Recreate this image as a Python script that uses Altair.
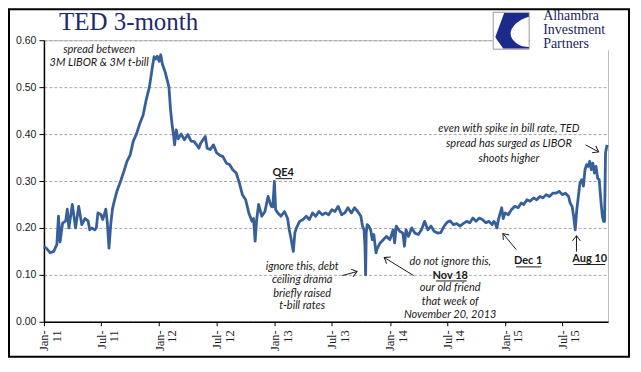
import math
import altair as alt
import pandas as pd

# ---------------- data ----------------
ted_dates = [
    "2011-01-01", "2011-01-11", "2011-01-21", "2011-02-01", "2011-02-11", "2011-02-16", "2011-02-21",
    "2011-03-01", "2011-03-11", "2011-03-16", "2011-03-21", "2011-04-01", "2011-04-11", "2011-04-21",
    "2011-05-01", "2011-05-11", "2011-05-21", "2011-05-26", "2011-06-01", "2011-06-11", "2011-06-16",
    "2011-06-21", "2011-07-01", "2011-07-06", "2011-07-11", "2011-07-16", "2011-07-21", "2011-07-26",
    "2011-08-01", "2011-08-06", "2011-08-11", "2011-08-21", "2011-09-01", "2011-09-11", "2011-09-21",
    "2011-10-01", "2011-10-11", "2011-10-21", "2011-11-01", "2011-11-11", "2011-11-21", "2011-12-01",
    "2011-12-11", "2011-12-16", "2011-12-21", "2011-12-26",
    "2012-01-01", "2012-01-06", "2012-01-11", "2012-01-21", "2012-02-01", "2012-02-06", "2012-02-11",
    "2012-02-16", "2012-02-19", "2012-02-24", "2012-03-01", "2012-03-11", "2012-03-21", "2012-04-01",
    "2012-04-11", "2012-04-21", "2012-05-01", "2012-05-06", "2012-05-11", "2012-05-21", "2012-05-26",
    "2012-06-01", "2012-06-11", "2012-06-21", "2012-07-01", "2012-07-11", "2012-07-21", "2012-08-01",
    "2012-08-11", "2012-08-21", "2012-09-01", "2012-09-11", "2012-09-21", "2012-10-01", "2012-10-06",
    "2012-10-11", "2012-10-21", "2012-10-26", "2012-10-31", "2012-11-05", "2012-11-11", "2012-11-21",
    "2012-12-01", "2012-12-11", "2012-12-21", "2012-12-26", "2012-12-31",
    "2013-01-04", "2013-01-11", "2013-01-21", "2013-02-01", "2013-02-11", "2013-02-16", "2013-02-21",
    "2013-03-01", "2013-03-06", "2013-03-11", "2013-03-21", "2013-04-01", "2013-04-11", "2013-04-21",
    "2013-05-01", "2013-05-11", "2013-05-21", "2013-06-01", "2013-06-11", "2013-06-21", "2013-07-01",
    "2013-07-11", "2013-07-21", "2013-08-01", "2013-08-11", "2013-08-21", "2013-09-01", "2013-09-11",
    "2013-09-21", "2013-10-01", "2013-10-06", "2013-10-11", "2013-10-14", "2013-10-16", "2013-10-18",
    "2013-10-21", "2013-10-26", "2013-11-01", "2013-11-06", "2013-11-11", "2013-11-18", "2013-11-21",
    "2013-12-01", "2013-12-11", "2013-12-21",
    "2014-01-01", "2014-01-11", "2014-01-16", "2014-01-21", "2014-02-01", "2014-02-11", "2014-02-16",
    "2014-02-21", "2014-03-01", "2014-03-11", "2014-03-21", "2014-04-01", "2014-04-11", "2014-04-21",
    "2014-05-01", "2014-05-11", "2014-05-21", "2014-06-01", "2014-06-11", "2014-06-21", "2014-07-01",
    "2014-07-11", "2014-07-21", "2014-08-01", "2014-08-11", "2014-08-21", "2014-09-01", "2014-09-11",
    "2014-09-21", "2014-10-01", "2014-10-11", "2014-10-21", "2014-11-01", "2014-11-11", "2014-11-21",
    "2014-11-26", "2014-12-01", "2014-12-06", "2014-12-11", "2014-12-21", "2014-12-26",
    "2015-01-01", "2015-01-11", "2015-01-21", "2015-02-01", "2015-02-11", "2015-02-21", "2015-03-01",
    "2015-03-11", "2015-03-21", "2015-04-01", "2015-04-11", "2015-04-21", "2015-05-01", "2015-05-11",
    "2015-05-21", "2015-06-01", "2015-06-11", "2015-06-21", "2015-07-01", "2015-07-11", "2015-07-21",
    "2015-07-26", "2015-08-01", "2015-08-06", "2015-08-11", "2015-08-16", "2015-08-21", "2015-08-26",
    "2015-09-01", "2015-09-06", "2015-09-11", "2015-09-16", "2015-09-21", "2015-09-26", "2015-10-01",
    "2015-10-06", "2015-10-11", "2015-10-16", "2015-10-21", "2015-10-26", "2015-11-01", "2015-11-05",
    "2015-11-09", "2015-11-12", "2015-11-15", "2015-11-20",
]
ted_values = [
    0.161, 0.155, 0.147, 0.150, 0.165, 0.225, 0.170,
    0.210, 0.215, 0.240, 0.200, 0.250, 0.200, 0.246,
    0.207, 0.220, 0.215, 0.196, 0.200, 0.196, 0.200,
    0.232, 0.228, 0.218, 0.228, 0.240, 0.210, 0.157,
    0.210, 0.240, 0.255, 0.280, 0.300, 0.320, 0.342,
    0.355, 0.385, 0.400, 0.423, 0.440, 0.473, 0.500,
    0.545, 0.565, 0.560, 0.566,
    0.555, 0.569, 0.550, 0.530, 0.500, 0.452, 0.420,
    0.395, 0.377, 0.409, 0.390, 0.400, 0.388, 0.399,
    0.385, 0.384, 0.375, 0.370, 0.380, 0.390, 0.395,
    0.370, 0.367, 0.377, 0.360, 0.355, 0.352, 0.338,
    0.335, 0.324, 0.317, 0.296, 0.270, 0.260, 0.246,
    0.232, 0.214, 0.220, 0.172, 0.218, 0.250, 0.225,
    0.235, 0.267, 0.246, 0.245, 0.299,
    0.239, 0.232, 0.225, 0.235, 0.220, 0.196, 0.180,
    0.150, 0.190, 0.200, 0.214, 0.218, 0.225, 0.218,
    0.232, 0.225, 0.235, 0.228, 0.232, 0.228, 0.239,
    0.235, 0.246, 0.228, 0.232, 0.243, 0.232, 0.243,
    0.235, 0.225, 0.204, 0.196, 0.161, 0.100, 0.189,
    0.207, 0.204, 0.196, 0.175, 0.186, 0.147, 0.155,
    0.168, 0.175, 0.182,
    0.175, 0.196, 0.168, 0.204, 0.193, 0.189, 0.161,
    0.196, 0.182, 0.200, 0.189, 0.186, 0.196, 0.214,
    0.196, 0.204, 0.193, 0.189, 0.190, 0.203, 0.212,
    0.215, 0.207, 0.209, 0.204, 0.209, 0.214, 0.211,
    0.221, 0.214, 0.221, 0.218, 0.211, 0.214, 0.207,
    0.214, 0.210, 0.200, 0.218, 0.243, 0.220,
    0.232, 0.228, 0.239, 0.246, 0.243, 0.253, 0.250,
    0.260, 0.257, 0.264, 0.260, 0.267, 0.264, 0.271,
    0.267, 0.274, 0.274, 0.278, 0.271, 0.274, 0.267,
    0.253, 0.246, 0.225, 0.196, 0.239, 0.267, 0.296,
    0.303, 0.289, 0.324, 0.335, 0.331, 0.342, 0.324,
    0.338, 0.317, 0.331, 0.306, 0.303, 0.253, 0.225,
    0.214, 0.214, 0.360, 0.377,
]

# italic notes
note_texts = [
    "spread between", "3M LIBOR & 3M t-bill",
    "ignore this, debt", "ceiling drama", "briefly raised", "t-bill rates",
    "do not ignore this,", "our old friend", "that week of", "November 20, 2013",
    "even with spike in bill rate, TED", "spread has surged as LIBOR", "shoots higher",
]
note_dates = [
    "2011-06-25", "2011-06-25",
    "2013-03-29", "2013-03-29", "2013-03-29", "2013-03-29",
    "2014-07-11", "2014-07-11", "2014-07-11", "2014-07-11",
    "2015-01-13", "2015-01-13", "2015-01-13",
]
note_values = [
    0.579, 0.552,
    0.116, 0.0885, 0.060, 0.033,
    0.127, 0.071, 0.043, 0.0155,
    0.411, 0.379, 0.347,
]

# bold, underlined labels
label_texts = ["QE4", "Nov 18", "Dec 1", "Aug 10"]
label_dates = ["2013-01-28", "2014-07-11", "2015-03-15", "2015-09-26"]
label_values = [0.318, 0.0985, 0.129, 0.1347]
underline_start = ["2013-01-04", "2014-05-27", "2015-02-05", "2015-08-06"]
underline_end = ["2013-02-25", "2014-09-01", "2015-04-25", "2015-11-14"]
underline_values = [0.305, 0.087, 0.117, 0.122]

# arrows (tail -> head)
arrow_from_dates = ["2013-08-03", "2014-03-17", "2015-02-05", "2015-08-15", "2015-09-13"]
arrow_from_values = [0.0985, 0.0985, 0.154, 0.1496, 0.377]
arrow_to_dates = ["2013-09-19", "2013-12-14", "2014-12-25", "2015-08-15", "2015-10-24"]
arrow_to_values = [0.107, 0.137, 0.188, 0.1836, 0.362]

logo_lines = ["Alhambra", "Investment", "Partners"]

# ---------------- layout constants ----------------
W, H = 565, 282
X0, X1 = "2011-01-01", "2015-11-23"
Y_MAX = 0.6
BLUE = "#37609a"
NAVY = "#1f2a6e"

t0, t1 = pd.Timestamp(X0), pd.Timestamp(X1)
px_per_day = W / ((t1 - t0).days)


def screen_angle(d0, v0, d1, v1):
    dx = (pd.Timestamp(d1) - pd.Timestamp(d0)).days * px_per_day
    dy = -(v1 - v0) * H / Y_MAX
    return math.degrees(math.atan2(dy, dx)) % 360


ted = pd.DataFrame({"date": ted_dates, "value": ted_values})
notes = pd.DataFrame({"date": note_dates, "value": note_values, "text": note_texts})
labels = pd.DataFrame({"date": label_dates, "value": label_values, "text": label_texts})
unders = pd.DataFrame({"start": underline_start, "end": underline_end, "value": underline_values})
arrows = pd.DataFrame({
    "d0": arrow_from_dates, "v0": arrow_from_values,
    "d1": arrow_to_dates, "v1": arrow_to_values,
})
arrows["angle"] = [screen_angle(a, b, c, d) for a, b, c, d in
                   zip(arrow_from_dates, arrow_from_values, arrow_to_dates, arrow_to_values)]

x_scale = alt.Scale(type="utc", domain=[alt.DateTime(year=2011, month=1, date=1, utc=True),
                                        alt.DateTime(year=2015, month=11, date=23, utc=True)])
y_scale = alt.Scale(domain=[0, Y_MAX], nice=False)

tick_vals = [alt.DateTime(year=y, month=m, date=1, utc=True)
             for y in range(2011, 2016) for m in (1, 7)]

x_axis = alt.Axis(
    values=tick_vals, title=None, grid=False,
    labelExpr="[utcFormat(datum.value, '%b-'), utcFormat(datum.value, '%y')]",
    labelAngle=270, labelAlign="right", labelBaseline="middle", labelLineHeight=12.5,
    labelFont="Liberation Serif", labelFontSize=12.5, labelColor="#1a1a1a",
    labelPadding=4, tickSize=4, tickColor="#000000", domainColor="#000000",
    domainWidth=1.5, labelOverlap=False,
)
y_axis = alt.Axis(
    values=[0, 0.1, 0.2, 0.3, 0.4, 0.5, 0.6], format=".2f", title=None,
    labelFont="Liberation Sans", labelFontSize=10.5, labelColor="#1a1a1a",
    tickSize=5, tickColor="#000000", domainColor="#000000", domainWidth=1.5,
    labelPadding=3, grid=True, gridDash=[3, 2], gridColor="#a8a8a8",
)

line = alt.Chart(ted).mark_line(color=BLUE, strokeWidth=2.8, strokeJoin="round").encode(
    x=alt.X("date:T", scale=x_scale, axis=x_axis),
    y=alt.Y("value:Q", scale=y_scale, axis=y_axis),
)

note_layer = alt.Chart(notes).mark_text(
    font="Lato", fontStyle="italic", fontSize=11, color="#1a1a1a", align="center", baseline="middle"
).encode(x="date:T", y="value:Q", text="text:N")

label_layer = alt.Chart(labels).mark_text(
    font="Lato", fontWeight="bold", fontSize=11, color="#1a1a1a", align="center", baseline="middle"
).encode(x="date:T", y="value:Q", text="text:N")

under_layer = alt.Chart(unders).mark_rule(color="#1a1a1a", strokeWidth=1).encode(
    x="start:T", x2="end:T", y="value:Q"
)

arrow_shaft = alt.Chart(arrows).mark_rule(color="#1a1a1a", strokeWidth=1).encode(
    x="d0:T", x2="d1:T", y="v0:Q", y2="v1:Q"
)
arrow_head = alt.Chart(arrows).mark_point(
    shape="M-1,-0.75L0,0L-1,0.75", filled=False, color="#1a1a1a", strokeWidth=1, size=110, opacity=1
).encode(x="d1:T", y="v1:Q", angle=alt.Angle("angle:Q", scale=None))

# decorations: title, logo, outer frame
deco = pd.DataFrame({"k": [0]})
title = alt.Chart(deco).mark_text(
    text="TED 3-month", font="Liberation Serif", fontSize=25, color=NAVY, align="left", baseline="middle"
).encode(x=alt.value(15), y=alt.value(-18))
logo_white = alt.Chart(deco).mark_rect(fill="white").encode(
    x=alt.value(487), x2=alt.value(580), y=alt.value(-31), y2=alt.value(10)
)
logo_box = alt.Chart(deco).mark_rect(fill="white", stroke="#9a9a9a", strokeWidth=1).encode(
    x=alt.value(450), x2=alt.value(486), y=alt.value(-28), y2=alt.value(9)
)
logo_mark = alt.Chart(deco).mark_point(
    shape="M-0.4,-1L1,-1L1,-0.8C0.3,-0.6 -0.25,-0.05 0.05,0.45C0.3,0.8 0.6,0.9 1,0.92L1,1L-0.45,1C-0.6,0.8 -0.8,0.55 -0.9,0.36Z",
    filled=True, color="#1c2a8c", size=1250, opacity=1, strokeWidth=0
).encode(x=alt.value(468), y=alt.value(-9.5))
logo_texts = [
    alt.Chart(deco).mark_text(
        text=t, font="Liberation Serif", fontSize=14, color="#1b1f5e", align="left", baseline="middle"
    ).encode(x=alt.value(500), y=alt.value(yy))
    for t, yy in zip(logo_lines, [-24.5, -10.5, 3.5])
]
frame = alt.Chart(deco).mark_rect(fill=None, stroke="#000000", strokeWidth=2).encode(
    x=alt.value(-35), x2=alt.value(586), y=alt.value(-31), y2=alt.value(317)
)

chart = alt.layer(
    line, note_layer, label_layer, under_layer, arrow_shaft, arrow_head,
    title, logo_white, logo_box, logo_mark, *logo_texts, frame
).properties(
    width=W, height=H,
    padding={"left": 36, "top": 32, "right": 25, "bottom": 40},
    autosize=alt.AutoSizeParams(type="none"),
    background="white",
).configure_view(stroke="#bdbdbd", strokeWidth=1)

chart.save("out.html", embed_options={"renderer": "svg", "actions": False})
